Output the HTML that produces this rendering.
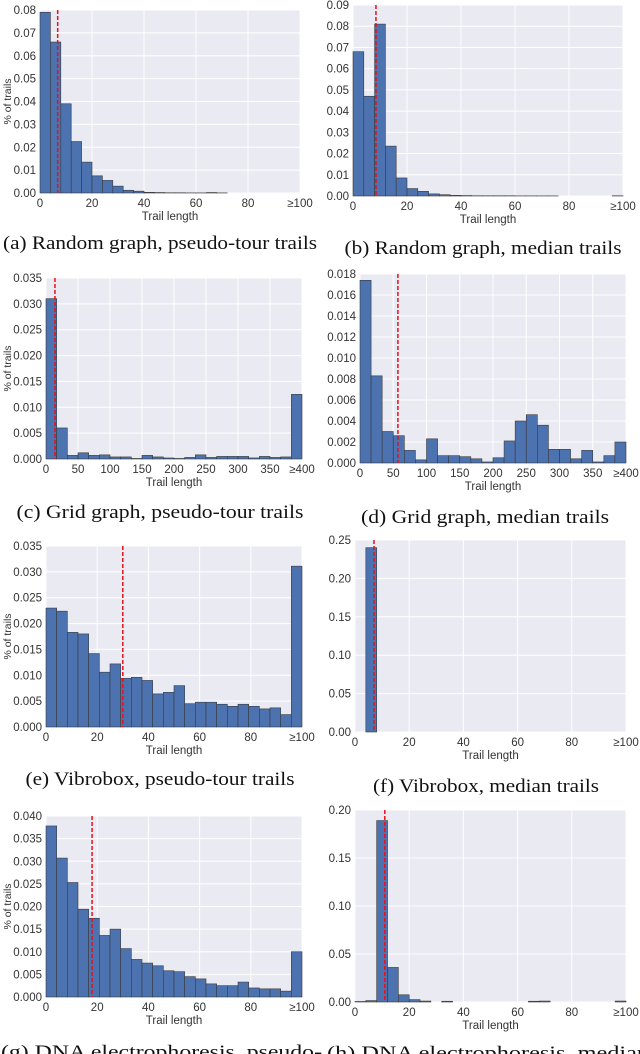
<!DOCTYPE html>
<html><head><meta charset="utf-8">
<style>
html,body{margin:0;padding:0;background:#fff;}
svg{display:block;}
.tk{font-family:"Liberation Sans",sans-serif;font-size:11.5px;fill:#333;}
.cap{font-family:"Liberation Serif",serif;font-size:19px;fill:#111;}
</style></head>
<body>
<svg id="fig" width="640" height="1054" xmlns="http://www.w3.org/2000/svg"></svg>
<script>
// Panel (a) Random graph, pseudo-tour
const aValues=[0.079,0.066,0.039,0.0225,0.0135,0.0075,0.0055,0.003,0.0012,0.0008,0.0003,0.0002,0.0001,0.0001,0.00005,0.00005,0.0002,0.00005,0,0,0,0,0,0,0];
const aMedian=6.8;
const aYTicks=[0,0.01,0.02,0.03,0.04,0.05,0.06,0.07,0.08];
// Panel (b) Random graph, median
const bValues=[0.068,0.047,0.081,0.0235,0.0085,0.0035,0.0022,0.001,0.0006,0.0003,0.0002,0.0001,0.0001,0.0001,0.0001,0.00005,0.00005,0.00005,0.00005,0,0,0,0,0,0.0001];
const bMedian=8.5;
const bYTicks=[0,0.01,0.02,0.03,0.04,0.05,0.06,0.07,0.08,0.09];
// Panel (c) Grid graph, pseudo-tour
const cValues=[0.031,0.006,0.0007,0.0012,0.0007,0.0008,0.0004,0.0004,0.0001,0.0007,0.0004,0.0002,0.0001,0.0003,0.0008,0.0003,0.0005,0.0005,0.0005,0.0002,0.0005,0.0003,0.0004,0.0125];
const cMedian=14;
const cYTicks=[0,0.005,0.010,0.015,0.020,0.025,0.030,0.035];
// Panel (d) Grid graph, median
const dValues=[0.0174,0.0083,0.003,0.0026,0.0012,0.0003,0.0023,0.0007,0.0007,0.0006,0.0004,0.0001,0.0005,0.0021,0.004,0.0046,0.0036,0.0013,0.0013,0.0004,0.0012,0.0001,0.0007,0.002];
const dMedian=57;
const dYTicks=[0,0.002,0.004,0.006,0.008,0.010,0.012,0.014,0.016,0.018];
// Panel (e) Vibrobox, pseudo-tour
const eValues=[0.023,0.0224,0.0183,0.018,0.0142,0.0106,0.0122,0.0094,0.0096,0.009,0.0064,0.0067,0.008,0.0045,0.0048,0.0048,0.0044,0.004,0.0044,0.004,0.0035,0.0037,0.0024,0.0311];
const eMedian=30;
const eYTicks=[0,0.005,0.010,0.015,0.020,0.025,0.030,0.035];
// Panel (f) Vibrobox, median
const fValues=[0,0.24,0,0,0,0,0,0,0,0,0,0,0,0,0,0,0,0,0,0,0,0,0,0,0];
const fMedian=7;
const fYTicks=[0,0.05,0.10,0.15,0.20,0.25];
// Panel (g) DNA electrophoresis, pseudo-tour
const gValues=[0.0378,0.0307,0.0253,0.0194,0.0174,0.0136,0.015,0.0107,0.0083,0.0075,0.0069,0.0058,0.0056,0.0045,0.004,0.0029,0.0025,0.0025,0.0033,0.002,0.0018,0.0018,0.0013,0.01];
const gMedian=18;
const gYTicks=[0,0.005,0.010,0.015,0.020,0.025,0.030,0.035,0.040];
// Panel (h) DNA electrophoresis, median
const hValues=[0.0005,0.0015,0.189,0.036,0.0075,0.0025,0.001,0,0.0008,0,0,0,0,0,0,0,0.0008,0.001,0,0,0,0,0,0,0.001];
const hMedian=11;
const hYTicks=[0,0.05,0.10,0.15,0.20];
const xTicks100=[0,20,40,60,80,100];
const xTicks400=[0,50,100,150,200,250,300,350,400];

const NS="http://www.w3.org/2000/svg";
const svg=document.getElementById('fig');
function mk(tag,attrs,parent){const e=document.createElementNS(NS,tag);for(const k in attrs)e.setAttribute(k,attrs[k]);(parent||svg).appendChild(e);return e;}

function panel(id,box,values,median,yTicks,xTicks,xMax,dec,ylabel,caption,capX,capY,capLen,anchor){
  const g=mk('g',{});
  
  
  const [L,R,T,B]=box;
  const yMax=yTicks[yTicks.length-1];
  const sx=v=>L+(v/xMax)*(R-L);
  const sy=v=>B-(v/yMax)*(B-T);
  const bg=mk('rect',{x:L,y:T,width:R-L,height:B-T,fill:'#eaeaf2'},g);
  
  
  yTicks.forEach(t=>{
    const ln=mk('line',{x1:L,x2:R,y1:sy(t),y2:sy(t),stroke:'#fff','stroke-width':1},g);
    
    
    const tx=mk('text',{x:L-4,y:sy(t)+4,'text-anchor':'end',class:'tk'},g);
    tx.textContent=t.toFixed(dec);
    
    
  });
  xTicks.forEach((t,i)=>{
    const ln=mk('line',{x1:sx(t),x2:sx(t),y1:T,y2:B,stroke:'#fff','stroke-width':1},g);
    
    
    const tx=mk('text',{x:sx(t),y:B+14,'text-anchor':'middle',class:'tk'},g);
    tx.textContent=(i===xTicks.length-1?'≥':'')+t;
    
    
  });
  const w=xMax/values.length;
  values.forEach((v,i)=>{
    const r=mk('rect',{x:sx(i*w),y:sy(v),width:sx(w)-sx(0),height:Math.max(0,B-sy(v)),fill:'#4c72b0',stroke:'#3a3a3a','stroke-width':0.6},g);
    
    
  });
  const md=mk('line',{x1:sx(median),x2:sx(median),y1:T,y2:B,stroke:'#e8101a','stroke-width':1.5,'stroke-dasharray':'4,2'},g);
  
  
  const xl=mk('text',{x:(L+R)/2,y:B+27,'text-anchor':'middle',class:'tk'},g);
  xl.textContent='Trail length';
  
  
  if(ylabel){
    const cy=(T+B)/2;
    const yl=mk('text',{x:11,y:cy,'text-anchor':'middle',class:'tk',transform:`rotate(-90 11 ${cy})`,style:'font-size:10.5px'},g);
    yl.textContent='% of trails';
    
    
  }
  const cp=mk('text',{x:capX,y:capY,'text-anchor':anchor||'middle',class:'cap',textLength:capLen,lengthAdjust:'spacingAndGlyphs'},g);
  cp.textContent=caption;
  
  
}
panel('a',[40,300,10,193],aValues,aMedian,aYTicks,xTicks100,100,2,true,'(a) Random graph, pseudo-tour trails',160,249,314);
panel('b',[353,623,5,196],bValues,bMedian,bYTicks,xTicks100,100,2,false,'(b) Random graph, median trails',483,254,277);
panel('c',[46,302,278,459],cValues,cMedian,cYTicks,xTicks400,400,3,true,'(c) Grid graph, pseudo-tour trails',160,518,287);
panel('d',[360,626,274,463],dValues,dMedian,dYTicks,xTicks400,400,3,false,'(d) Grid graph, median trails',485,523,248);
panel('e',[46,302,546,727],eValues,eMedian,eYTicks,xTicks100,100,3,true,'(e) Vibrobox, pseudo-tour trails',160,785,269);
panel('f',[355,626,540,732],fValues,fMedian,fYTicks,xTicks100,100,2,false,'(f) Vibrobox, median trails',486,792,226);
panel('g',[46,302,816,997],gValues,gMedian,gYTicks,xTicks100,100,3,true,'(g)  DNA  electrophoresis,  pseudo-',1,1058,321,'start');
panel('h',[355,626,810,1002],hValues,hMedian,hYTicks,xTicks100,100,2,false,'(h)  DNA  electrophoresis,  median',327,1059,322,'start');
</script>
</body></html>
